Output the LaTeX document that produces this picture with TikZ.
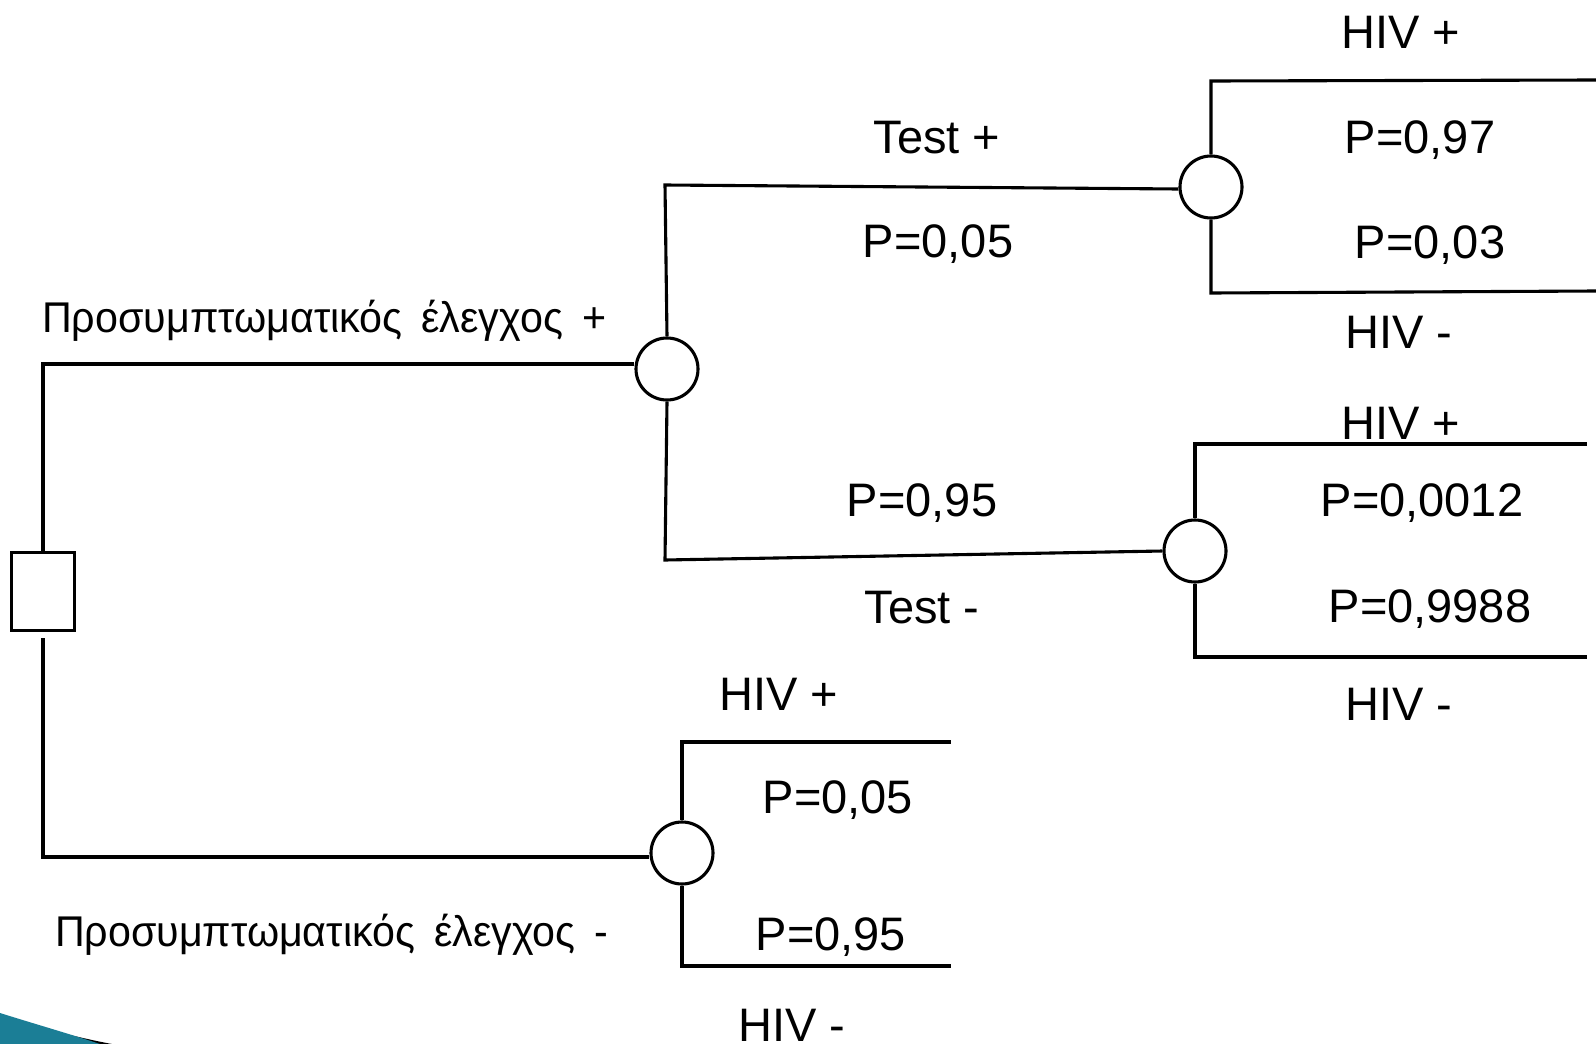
\documentclass[tikz,border=0pt]{standalone}
\usepackage{graphicx}
\usepackage{fontspec}
\setmainfont{Liberation Sans}
\definecolor{swoosh}{RGB}{27,126,150}
% Greek branch label fitted to a given width, keeping its height
\newcommand{\grkline}[2]{\resizebox{#1}{\height}{\fontsize{43}{50}\selectfont #2}}
\newcommand{\gap}{\hspace{20pt}}
\begin{document}
\begin{tikzpicture}[x=1pt,y=-1pt,
  wire/.style={line width=3.1pt},
  chance/.style={circle,draw,line width=3.1pt,minimum size=62pt,inner sep=0pt},
  decision/.style={rectangle,draw,line width=3.1pt,minimum width=63pt,minimum height=78pt,inner sep=0pt},
  lbl/.style={anchor=base,inner sep=0pt,font=\fontsize{47}{56}\selectfont},
  glbl/.style={anchor=base west,inner sep=0pt}]
\useasboundingbox (0,0) rectangle (1596,1044);

% corner swoosh
\fill[black] (40,1028) .. controls (70,1035) and (95,1041) .. (112,1044) -- (40,1044) -- cycle;
\fill[swoosh] (0,1013) .. controls (35,1024) and (70,1034) .. (100,1044) -- (0,1044) -- cycle;

% decision and chance nodes
\node[decision] (dec) at (43,591.5) {};
\node[chance] (c1) at (667,369) {};
\node[chance] (c2) at (1211,187) {};
\node[chance] (c3) at (1195,551) {};
\node[chance] (c4) at (682,853) {};

% branch corners and free ends
\coordinate (ltop) at (43,364);
\coordinate (lbot) at (43,857);
\coordinate (c1up) at (665,185);
\coordinate (c1dn) at (665,560);
\coordinate (c2up) at (1211,81);
\coordinate (c2upe) at (1596,80);
\coordinate (c2dn) at (1211,293);
\coordinate (c2dne) at (1596,291);
\coordinate (c3up) at (1195,444);
\coordinate (c3upe) at (1587,444);
\coordinate (c3dn) at (1195,657);
\coordinate (c3dne) at (1587,657);
\coordinate (c4up) at (682,742);
\coordinate (c4upe) at (951,742);
\coordinate (c4dn) at (682,966);
\coordinate (c4dne) at (951,966);

% branches
\draw[wire] (dec.north) -- (ltop) -- (ltop -| c1.west);
\draw[wire] ([yshift=-6pt]dec.south) -- (lbot) -- (lbot -| c4.west);
\draw[wire] (c1.north) -- (c1up) -- ([yshift=-2pt]c2.west);
\draw[wire] (c1.south) -- (c1dn) -- (c3.west);
\draw[wire] (c2.north) -- (c2up) -- (c2upe);
\draw[wire] (c2.south) -- (c2dn) -- (c2dne);
\draw[wire] (c3.north) -- (c3up) -- (c3upe);
\draw[wire] (c3.south) -- (c3dn) -- (c3dne);
\draw[wire] (c4.north) -- (c4up) -- (c4upe);
\draw[wire] (c4.south) -- (c4dn) -- (c4dne);

% labels
\node[lbl] (t1) at (1401,48) {HIV +};
\node[lbl] (t2) at (937,153) {Test +};
\node[lbl] (t3) at (1420,153) {P=0,97};
\node[lbl] (t4) at (938,257) {P=0,05};
\node[lbl] (t5) at (1430,258) {P=0,03};
\node[glbl] (g1) at (42,332) {\grkline{564pt}{Προσυμπτωματικός\gap έλεγχος\gap +}};
\node[lbl] (t6) at (1399,348) {HIV -};
\node[lbl] (t7) at (1401,439) {HIV +};
\node[lbl] (t8) at (922,516) {P=0,95};
\node[lbl] (t9) at (1422,516) {P=0,0012};
\node[lbl] (t10) at (922,623) {Test -};
\node[lbl] (t11) at (1430,622) {P=0,9988};
\node[lbl] (t12) at (779,710) {HIV +};
\node[lbl] (t13) at (1399,720) {HIV -};
\node[lbl] (t14) at (838,813) {P=0,05};
\node[glbl] (g2) at (55,946) {\grkline{553pt}{Προσυμπτωματικός\gap έλεγχος\gap -}};
\node[lbl] (t15) at (831,950) {P=0,95};
\node[lbl] (t16) at (792,1041) {HIV -};
\end{tikzpicture}
\end{document}
